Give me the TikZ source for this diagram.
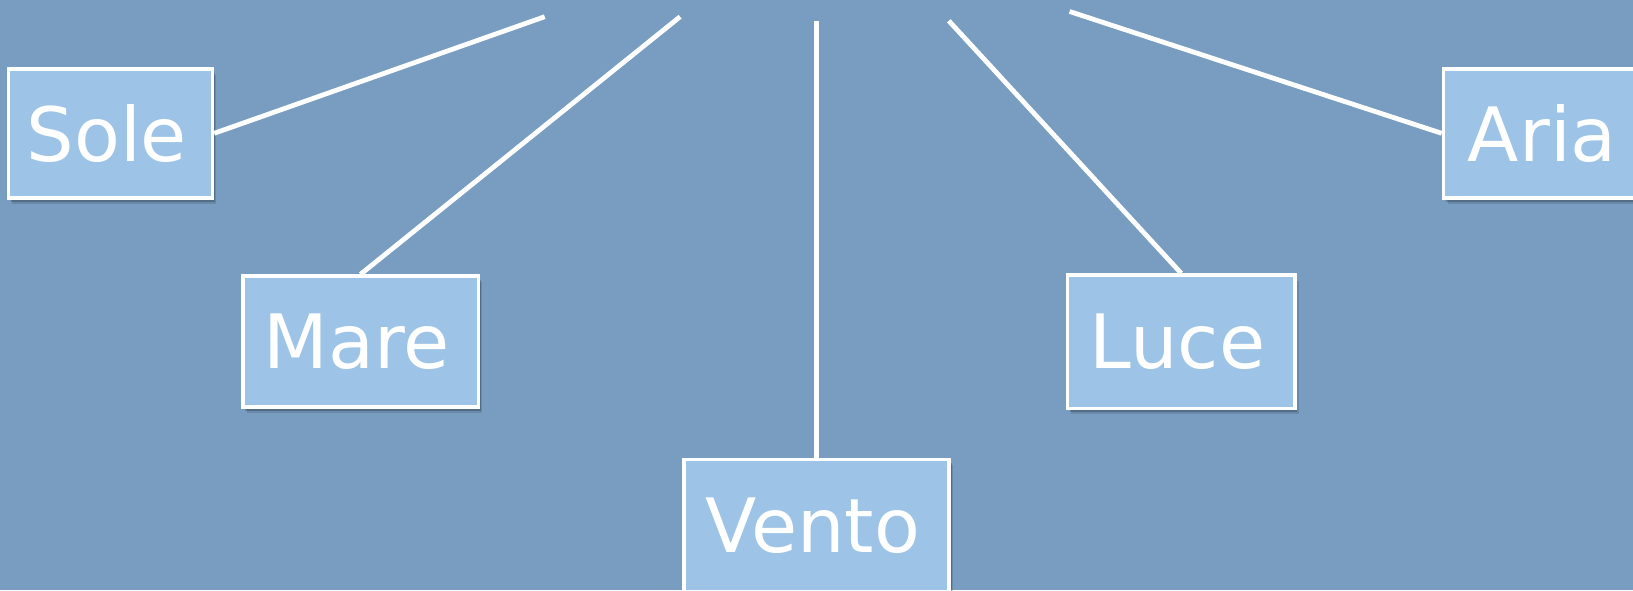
\documentclass[tikz,border=0pt]{standalone}
\usepackage{fontspec}
\setmainfont{DejaVu Sans}
\usetikzlibrary{shadows}
\definecolor{bg}{HTML}{789DC0}
\definecolor{boxfill}{HTML}{9DC3E6}
\tikzset{
  wordbox/.style={draw=white, line width=1.8pt, fill=boxfill, text=white,
    inner sep=0pt, font=\fontsize{37.5}{45}\selectfont,
    drop shadow={shadow xshift=2pt, shadow yshift=-3pt, opacity=0.12, fill=black},
    drop shadow={shadow xshift=1.2pt, shadow yshift=-2pt, opacity=0.2, fill=black},
    drop shadow={shadow xshift=0.6pt, shadow yshift=-1pt, opacity=0.25, fill=black}},
  spoke/.style={draw=white, line width=2.4pt}
}
\newcommand{\lw}[1]{#1\hspace*{3.6pt}}
\begin{document}
\begin{tikzpicture}[x=0.5pt,y=-0.5pt]
\useasboundingbox (0,0) rectangle (1633,590);
\fill[bg] (0,0) rectangle (1633,590);
\clip (0,0) rectangle (1633,590);
\node[wordbox, minimum width=102pt, minimum height=64.5pt] (sole) at (110.4,133.3) {\lw{Sole}};
\node[wordbox, minimum width=117.8pt, minimum height=65.3pt] (mare) at (360.5,341.4) {\lw{Mare}};
\node[wordbox, minimum width=132.6pt, minimum height=66pt] (vento) at (816.6,525.3) {\lw{Vento}};
\node[wordbox, minimum width=113.8pt, minimum height=66.6pt] (luce) at (1181.2,341.7) {\lw{Luce}};
\node[wordbox, minimum width=102.5pt, minimum height=64.5pt] (aria) at (1546,133.3) {\lw{Aria}};
\coordinate (s1) at (544.7,16.7);
\coordinate (s2) at (680.1,16.7);
\coordinate (s3) at (816.6,20.8);
\coordinate (s4) at (948.8,20.8);
\coordinate (s5) at (1069.6,11.5);
\draw[spoke] (sole.east) -- (s1);
\draw[spoke] (mare.north) -- (s2);
\draw[spoke] (vento.north) -- (s3);
\draw[spoke] (luce.north) -- (s4);
\draw[spoke] (aria.west) -- (s5);
\end{tikzpicture}
\end{document}
